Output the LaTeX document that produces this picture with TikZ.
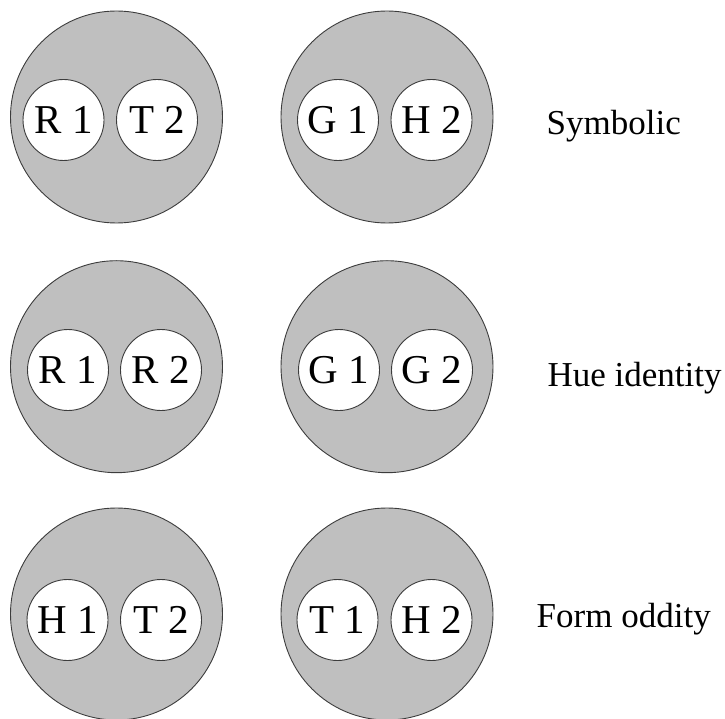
\documentclass[tikz,border=0pt]{standalone}
\usepackage{fontspec}
\setmainfont{Liberation Serif}
\definecolor{bigfill}{RGB}{191,191,191}
\definecolor{edge}{RGB}{60,60,60}
\begin{document}
\begin{tikzpicture}[x=1pt,y=-1pt,
  bigc/.style={circle,draw=edge,fill=bigfill,line width=0.9pt,minimum size=212pt,inner sep=0pt},
  smallc/.style={circle,draw=edge,fill=white,line width=0.9pt,minimum size=81pt,inner sep=0pt,font=\fontsize{41}{41}\selectfont},
  rowlabel/.style={anchor=base west,inner sep=0pt,font=\fontsize{35}{35}\selectfont}]
\useasboundingbox (0,0) rectangle (725,719);
% row 1
\node[bigc] (b11) at (116.5,117) {};
\node[bigc] (b12) at (387,117) {};
\node[smallc] (s111) at (63.5,120) {R 1};
\node[smallc] (s112) at (157,120) {T 2};
\node[smallc] (s121) at (338,120) {G 1};
\node[smallc] (s122) at (431.5,120) {H 2};
\node[rowlabel] (l1) at (546.5,135) {Symbolic};
% row 2
\node[bigc] (b21) at (116.5,366.7) {};
\node[bigc] (b22) at (387,366.7) {};
\node[smallc] (s211) at (68,370) {R 1};
\node[smallc] (s212) at (161,370) {R 2};
\node[smallc] (s221) at (339,370) {G 1};
\node[smallc] (s222) at (432,370) {G 2};
\node[rowlabel] (l2) at (547.4,386.7) {Hue identity};
% row 3
\node[bigc] (b31) at (116.5,614) {};
\node[bigc] (b32) at (387,614) {};
\node[smallc] (s311) at (67.5,620) {H 1};
\node[smallc] (s312) at (161,620) {T 2};
\node[smallc] (s321) at (337.5,620) {T 1};
\node[smallc] (s322) at (431.5,620) {H 2};
\node[rowlabel] (l3) at (536.5,627) {Form oddity};
\end{tikzpicture}
\end{document}
